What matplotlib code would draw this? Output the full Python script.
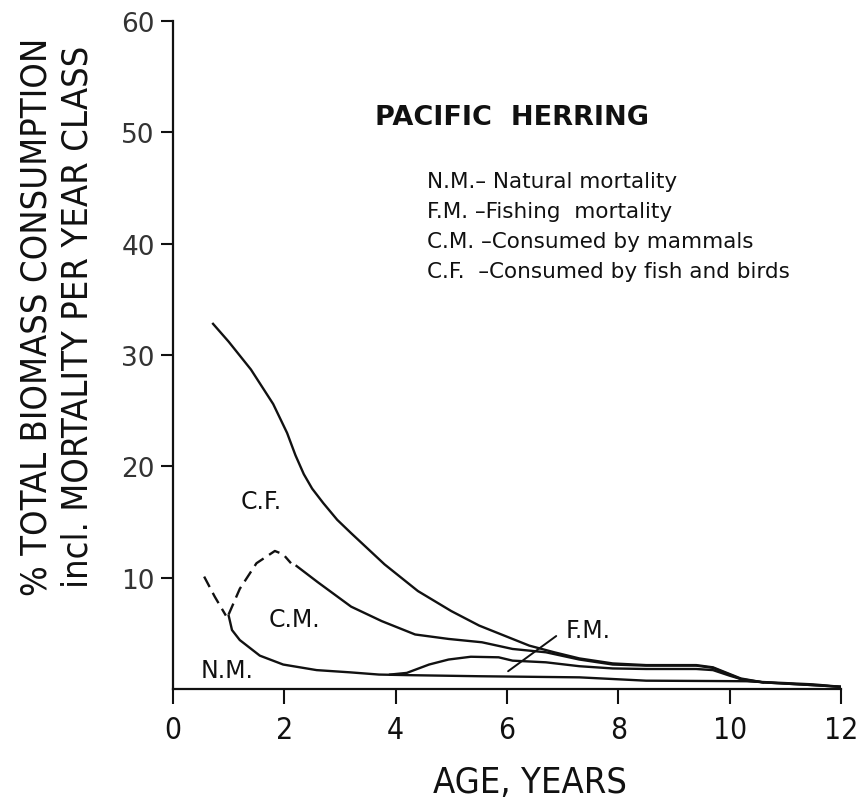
import matplotlib
matplotlib.use('Agg')
import matplotlib.pyplot as plt

NARROW = ['Liberation Sans Narrow', 'DejaVu Sans']
INK = '#111111'

# upper boundary of each stacked band
# (age in years, % total biomass)
nm_dash_age = [0.56, 0.75, 0.95]
nm_dash_val = [10.1, 8.3, 6.6]
nm_age = [1.0, 1.06, 1.2, 1.56, 1.98, 2.58, 3.18, 3.7, 4.2, 5.5, 7.3, 7.9,
          8.5, 9.7, 10.3, 11.5, 12.0]
nm_val = [6.6, 5.3, 4.4, 3.0, 2.2, 1.7, 1.5, 1.3, 1.25, 1.15, 1.05, 0.9,
          0.75, 0.72, 0.7, 0.42, 0.2]

fm_age = [3.9, 4.2, 4.6, 4.95, 5.35, 5.85, 6.1, 6.7, 7.3, 7.9, 8.5, 9.4,
          9.7, 10.0, 10.3, 10.6]
fm_val = [1.3, 1.45, 2.2, 2.65, 2.9, 2.85, 2.55, 2.4, 2.05, 1.85, 1.8, 1.8,
          1.7, 1.2, 0.75, 0.6]

cm_dash_age = [1.0, 1.2, 1.5, 1.83, 1.98, 2.12]
cm_dash_val = [6.7, 9.0, 11.3, 12.4, 12.1, 11.3]
cm_age = [2.22, 2.6, 3.2, 3.75, 4.35, 4.95, 5.55, 6.1, 6.7, 7.3, 7.9, 8.5,
          9.4, 9.7, 10.0, 10.2, 10.6, 11.5, 12.0]
cm_val = [11.05, 9.6, 7.4, 6.1, 4.9, 4.5, 4.2, 3.6, 3.3, 2.65, 2.2, 2.1,
          2.1, 1.9, 1.3, 0.9, 0.6, 0.35, 0.2]

cf_age = [0.72, 1.0, 1.4, 1.8, 2.05, 2.2, 2.35, 2.5, 2.7, 2.95, 3.2, 3.8,
          4.4, 5.0, 5.5, 6.0, 6.4, 6.85, 7.3, 7.9, 8.5, 9.4, 9.7, 10.0, 10.2,
          10.6, 11.5, 12.0]
cf_val = [32.8, 31.2, 28.7, 25.6, 23.0, 21.0, 19.3, 18.0, 16.7, 15.2, 14.0,
          11.2, 8.8, 7.0, 5.7, 4.7, 3.9, 3.3, 2.75, 2.3, 2.15, 2.15, 1.95,
          1.35, 0.95, 0.6, 0.35, 0.2]

x_ticks = [0, 2, 4, 6, 8, 10, 12]
y_ticks = [10, 20, 30, 40, 50, 60]

legend_lines = ['N.M.\u2013 Natural mortality',
                'F.M. \u2013Fishing  mortality',
                'C.M. \u2013Consumed by mammals',
                'C.F.  \u2013Consumed by fish and birds']

fig = plt.figure(figsize=(8.58, 8.12), dpi=100)
ax = fig.add_axes([0.2016, 0.1502, 0.7786, 0.8227])

lw = 1.7
dash = (0, (5, 2.8))
ax.plot(nm_dash_age, nm_dash_val, color=INK, lw=lw, linestyle=dash)
ax.plot(nm_age, nm_val, color=INK, lw=lw)
ax.plot(fm_age, fm_val, color=INK, lw=lw)
ax.plot(cm_dash_age, cm_dash_val, color=INK, lw=lw, linestyle=dash)
ax.plot(cm_age, cm_val, color=INK, lw=lw)
ax.plot(cf_age, cf_val, color=INK, lw=lw)

# band labels
lab_kw = dict(fontsize=17, color=INK, ha='center', va='center')
ax.text(1.58, 16.9, 'C.F.', **lab_kw)
ax.text(2.19, 6.3, 'C.M.', **lab_kw)
ax.text(0.98, 1.7, 'N.M.', **lab_kw)
ax.annotate('F.M.', xy=(6.02, 1.6), xytext=(7.45, 5.3),
            fontsize=17, color=INK, ha='center', va='center',
            arrowprops=dict(arrowstyle='-', color=INK, lw=1.4,
                            shrinkA=0, shrinkB=0,
                            relpos=(-0.2, 0.25)))

ax.text(6.09, 51.4, 'PACIFIC  HERRING', fontsize=19.5, fontweight='bold',
        color=INK, ha='center', va='center')
for i, line in enumerate(legend_lines):
    ax.text(4.56, 45.6 - 2.67 * i, line, fontsize=15.5, color=INK,
            ha='left', va='center')

ax.set_xlim(0, 12)
ax.set_ylim(0, 60)
ax.spines['top'].set_visible(False)
ax.spines['right'].set_visible(False)
for side in ['left', 'bottom']:
    ax.spines[side].set_linewidth(1.6)
    ax.spines[side].set_color(INK)

ax.set_xticks(x_ticks)
ax.set_xticklabels([str(t) for t in x_ticks])
ax.set_yticks(y_ticks)
ax.set_yticklabels([str(t) for t in y_ticks])
ax.tick_params(axis='x', direction='out', length=11, width=1.5, pad=8,
               labelsize=21.5, colors=INK)
ax.tick_params(axis='y', direction='out', length=9, width=1.5, pad=4,
               labelsize=19, labelcolor='#333333', color=INK)
for lab in ax.get_xticklabels():
    lab.set_fontfamily(NARROW)
    lab.set_fontstretch('condensed')

txt_kw = dict(family=NARROW, fontstretch='condensed', color=INK,
              ha='center', va='center')
fig.text(530 / 858, 1 - 783 / 812, 'AGE, YEARS', fontsize=26, **txt_kw)
fig.text(37 / 858, 1 - 317 / 812, '% TOTAL BIOMASS CONSUMPTION',
         fontsize=26, rotation=90, **txt_kw)
fig.text(78 / 858, 1 - 317 / 812, 'incl. MORTALITY PER YEAR CLASS',
         fontsize=26, rotation=90, **txt_kw)

fig.savefig('out.png', dpi=100)
